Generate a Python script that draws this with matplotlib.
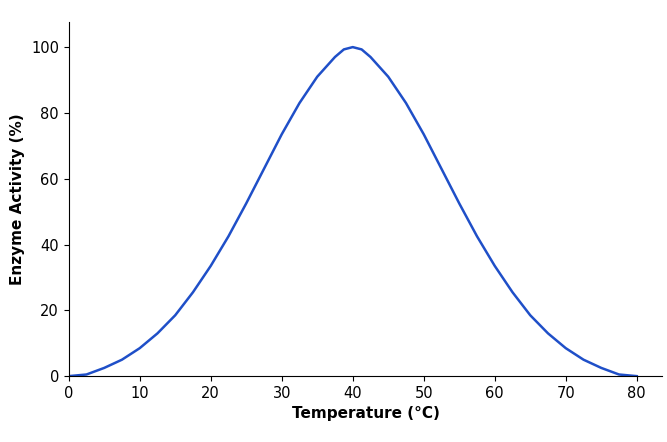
import matplotlib.pyplot as plt

# Data
temperature = [0, 2.5, 5, 7.5, 10, 12.5, 15, 17.5, 20, 22.5, 25, 27.5, 30, 32.5, 35, 37.5, 38.75,
               40, 41.25, 42.5, 45, 47.5, 50, 52.5, 55, 57.5, 60, 62.5, 65, 67.5, 70, 72.5, 75, 77.5, 80]
activity = [0, 0.5, 2.5, 5, 8.5, 13, 18.5, 25.5, 33.5, 42.5, 52.5, 63, 73.5, 83, 91, 97, 99.3,
            100, 99.3, 97, 91, 83, 73.5, 63, 52.5, 42.5, 33.5, 25.5, 18.5, 13, 8.5, 5, 2.5, 0.5, 0]

fig, ax = plt.subplots(figsize=(6.67, 4.42), dpi=100)
fig.subplots_adjust(left=0.103, right=0.993, top=0.95, bottom=0.149)

ax.plot(temperature, activity, color='#1f4fc8', linewidth=1.8)

ax.set_xlim(0, 83.6)
ax.set_ylim(0, 107.6)
ax.set_xticks(range(0, 81, 10))
ax.set_yticks(range(0, 101, 20))
ax.tick_params(labelsize=10.5)

ax.set_xlabel('Temperature (°C)', fontsize=11, fontweight='bold')
ax.set_ylabel('Enzyme Activity (%)', fontsize=11, fontweight='bold')

ax.spines['top'].set_visible(False)
ax.spines['right'].set_visible(False)

fig.savefig('out.png')
